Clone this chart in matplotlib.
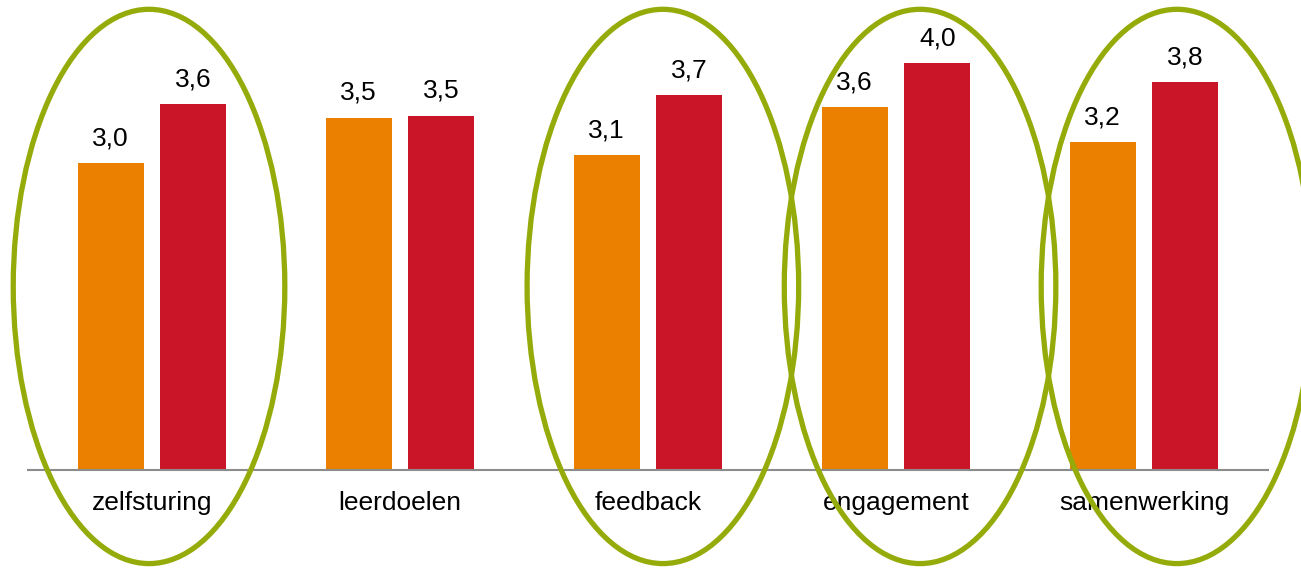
import matplotlib.pyplot as plt
from matplotlib.patches import Ellipse
import numpy as np

# data
categorieen = ['zelfsturing', 'leerdoelen', 'feedback', 'engagement', 'samenwerking']
score_voor = [3.01, 3.46, 3.09, 3.56, 3.22]   # oranje
score_na = [3.59, 3.48, 3.68, 4.00, 3.81]     # rood
omcirkeld = [0, 2, 3, 4]                      # groepen met een groene ellips

plt.rcParams['font.family'] = ['Liberation Sans', 'DejaVu Sans']

fig = plt.figure(figsize=(13.01, 5.70), dpi=100)
ax = fig.add_axes([28 / 1301, 100.5 / 570, 1240 / 1301, 469.5 / 570])

x = np.arange(len(categorieen))
breedte = 0.266
afstand = 0.167

bars1 = ax.bar(x - afstand, score_voor, breedte, color='#EB8000')
bars2 = ax.bar(x + afstand, score_na, breedte, color='#C91527')

# waarden boven de balken
for bars in (bars1, bars2):
    for b in bars:
        h = b.get_height()
        ax.annotate(f'{h:.1f}'.replace('.', ','),
                    (b.get_x() + b.get_width() / 2, h),
                    xytext=(0, 12.7), textcoords='offset points',
                    ha='center', va='baseline', fontsize=19, color='black')

# categorie labels onder de as
for i, naam in enumerate(categorieen):
    ax.text(i, -40.5 / 469.5, naam, transform=ax.get_xaxis_transform(),
            ha='center', va='baseline', fontsize=19, color='black')

ax.set_xlim(-0.5, len(categorieen) - 0.5)
ax.set_ylim(0, 469.5 / 101.7)

# groene ellipsen
verschuiving = {0: -0.012, 2: 0.06, 3: 0.097, 4: 0.133}
for i in omcirkeld:
    e = Ellipse((i + verschuiving[i], 1.80), 1.095, 5.45,
                fill=False, edgecolor='#95AB0A', linewidth=3.8, clip_on=False, zorder=5)
    ax.add_patch(e)

for s in ['top', 'right', 'left']:
    ax.spines[s].set_visible(False)
ax.spines['bottom'].set_color('#8C8C8C')
ax.spines['bottom'].set_linewidth(1.5)
ax.set_xticks([])
ax.set_yticks([])

fig.savefig('out.png', dpi=100)
